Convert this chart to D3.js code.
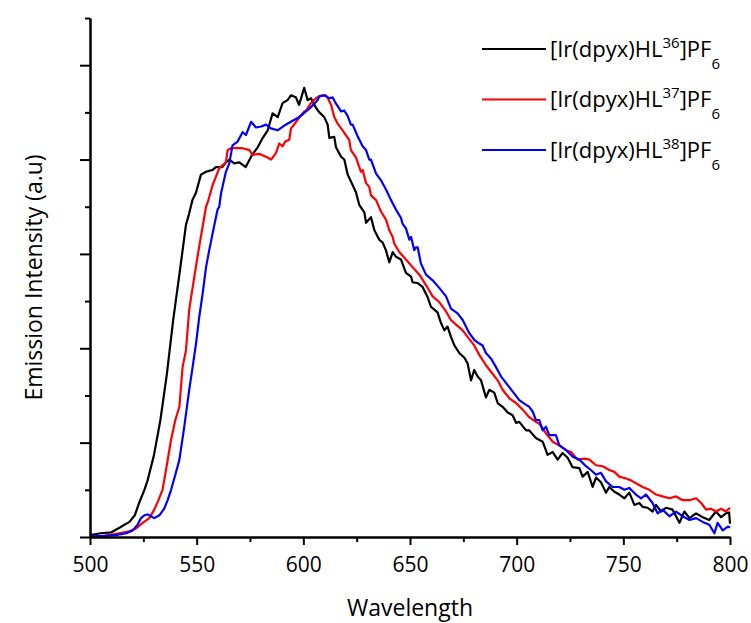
<!DOCTYPE html>
<html>
<head>
<meta charset="utf-8">
<script src="https://cdn.jsdelivr.net/npm/d3@7"></script>
<style>
  html, body { margin: 0; padding: 0; background: #ffffff; }
  svg { display: block; font-family: "Open Sans", "Noto Sans", sans-serif; }
</style>
</head>
<body>
<div id="chart"></div>
<script>
// ---- data (wavelength nm, emission intensity a.u.) ----
const xTicks = [500, 550, 600, 650, 700, 750, 800];
const xMinorTicks = [525, 575, 625, 675, 725, 775];
const yMajorTicks = [0, 1, 2, 3, 4, 5];
const yMinorTicks = [0.5, 1.5, 2.5, 3.5, 4.5, 5.5];
const xLabel = "Wavelength";
const yLabel = "Emission Intensity (a.u)";
const seriesNames = ["36", "37", "38"];
const seriesColors = ["#000000", "#ff0000", "#0000ff"];

const hl36 = [
  [500,0.02],[505,0.04],[510,0.05],[514,0.10],[518.5,0.16],[521,0.23],[523,0.36],[525.5,0.50],
  [527,0.60],[530,0.87],[533,1.24],[536,1.72],[539,2.30],[542,2.80],[545,3.31],[546.5,3.43],
  [548,3.57],[549.7,3.65],[552,3.84],[554.4,3.87],[557.5,3.89],[559,3.92],[562,3.92],[563.7,3.97],
  [565.3,4.00],[567.6,3.96],[570,3.97],[573,3.92],[576,4.05],[578.6,4.13],[581,4.23],[583.3,4.31],
  [585.6,4.49],[588,4.45],[590.3,4.60],[592.6,4.63],[594.2,4.68],[596.5,4.66],[598,4.58],[600.4,4.76],
  [602,4.63],[603.6,4.65],[605.9,4.55],[607.5,4.50],[609.8,4.45],[611.4,4.37],[612.2,4.23],[614.5,4.24],
  [615.3,4.13],[617.7,4.03],[619.2,4.00],[620.8,3.84],[623.1,3.73],[624.7,3.65],[626.2,3.52],[628.6,3.44],
  [629.4,3.33],[631.7,3.39],[633.3,3.25],[635.6,3.15],[637.2,3.12],[638.7,3.04],[640.3,2.91],[641.9,3.02],
  [643.4,2.97],[645.8,2.94],[648.1,2.80],[650.5,2.76],[651.2,2.70],[653.6,2.69],[655.9,2.65],[658.3,2.54],
  [659.8,2.44],[661.4,2.41],[662.9,2.38],[664.5,2.27],[666.1,2.19],[667.6,2.23],[669.2,2.12],[670.8,2.03],
  [673.1,1.95],[675.5,1.90],[677,1.84],[678.6,1.66],[680.1,1.77],[681.7,1.70],[683.3,1.66],[685.6,1.48],
  [687.2,1.56],[689.5,1.53],[691.1,1.42],[693.4,1.38],[695.8,1.32],[698.1,1.29],[699.7,1.21],[701.2,1.22],
  [704.4,1.13],[705.9,1.13],[709,1.05],[712.2,1.01],[714.5,0.87],[716.9,0.90],[719.2,0.82],[721.5,0.89],
  [723.9,0.84],[726.2,0.74],[729.4,0.73],[730.9,0.64],[733.3,0.69],[735.6,0.53],[737.2,0.63],[739.5,0.58],
  [741.9,0.47],[743.4,0.53],[745.8,0.48],[748.1,0.45],[750.5,0.41],[752.8,0.47],[755.2,0.34],[757.5,0.36],
  [759,0.32],[761.4,0.31],[763.7,0.27],[765.3,0.34],[767.7,0.27],[770,0.31],[773.1,0.29],[776.3,0.15],
  [778.6,0.27],[781,0.20],[784.1,0.25],[787.2,0.21],[790.3,0.18],[793.4,0.27],[795.8,0.21],[798.1,0.25],
  [799.6,0.26],[800,0.14]
];
const hl37 = [
  [500,0.01],[505.9,0.01],[513.7,0.04],[518.4,0.06],[521.6,0.09],[524.7,0.15],[527.8,0.20],[530.1,0.29],
  [531.7,0.37],[534,0.50],[536,0.76],[538,1.03],[540,1.24],[541.9,1.38],[543.4,1.80],[545,1.98],
  [546.5,2.41],[548.9,2.76],[551.2,3.08],[552.8,3.29],[554.4,3.50],[555.1,3.54],[557.5,3.73],[560.6,3.91],
  [563.7,3.97],[564.5,4.10],[566.1,4.12],[568.4,4.12],[571.5,4.12],[574.7,4.10],[576.2,4.05],[579.4,4.06],
  [582.5,4.03],[584.9,4.00],[587.2,4.07],[588.7,4.17],[590.3,4.14],[591.5,4.19],[593.4,4.21],[594.2,4.33],
  [595,4.35],[597.3,4.42],[598,4.44],[600.4,4.51],[601.3,4.52],[603.6,4.60],[605.9,4.65],[607.5,4.67],
  [609,4.68],[610.6,4.68],[611.5,4.65],[613,4.58],[614.5,4.45],[616.1,4.38],[618.4,4.31],[620.8,4.23],
  [621.5,4.21],[622.3,4.10],[624.7,4.02],[627,3.87],[627.8,3.89],[629.4,3.75],[630.9,3.71],[631.7,3.62],
  [634.1,3.57],[636.4,3.45],[638.8,3.36],[640.3,3.25],[641.9,3.18],[642.6,3.11],[645,3.02],[648.1,2.94],
  [651.2,2.86],[654.4,2.78],[657.5,2.67],[660.6,2.55],[663.7,2.49],[666.9,2.39],[669.2,2.30],[671.6,2.25],
  [674.7,2.19],[677,2.12],[680.1,2.03],[682.5,1.93],[685.6,1.82],[688.7,1.73],[691.1,1.66],[693.4,1.56],
  [696.6,1.47],[699.7,1.42],[702.8,1.35],[705.9,1.27],[709,1.22],[710.6,1.20],[712.2,1.15],[713.7,1.10],
  [716.9,1.01],[720,0.97],[723.2,0.92],[725.5,0.90],[728.6,0.82],[731.8,0.83],[734.1,0.82],[737.2,0.76],
  [740.3,0.75],[743.4,0.71],[745.8,0.69],[748.1,0.64],[751.3,0.62],[753.6,0.60],[755.9,0.57],[759.1,0.53],
  [762.2,0.50],[765.3,0.45],[768.4,0.43],[771.6,0.41],[774.7,0.43],[777.8,0.39],[781,0.39],[784.1,0.41],
  [786.5,0.36],[788.8,0.29],[791.1,0.30],[793.4,0.27],[795.8,0.30],[798.1,0.27],[800,0.31]
];
const hl38 = [
  [500,0.01],[506,0.01],[512,0.02],[517,0.04],[520,0.07],[522.3,0.13],[523.9,0.20],[525.5,0.23],
  [527,0.24],[528.6,0.22],[530.1,0.20],[532.5,0.23],[534.8,0.30],[536.4,0.39],[538,0.50],[540,0.66],
  [541.9,0.82],[544.2,1.17],[546.5,1.56],[548.1,1.80],[549.7,2.05],[551.2,2.33],[552.8,2.58],[554.4,2.86],
  [555.9,3.04],[557.5,3.22],[559.8,3.47],[560.6,3.50],[561.4,3.64],[563.7,3.87],[565.3,3.96],[566.8,4.15],
  [569.2,4.19],[571.5,4.29],[573.1,4.26],[575.5,4.40],[577.8,4.34],[580.2,4.35],[582.5,4.37],[584.8,4.33],
  [587.9,4.31],[591.1,4.36],[594.2,4.40],[597.3,4.44],[599.7,4.48],[602.8,4.54],[605.1,4.59],[606.7,4.63],
  [607.5,4.67],[609.8,4.68],[612.2,4.65],[613.7,4.66],[615.1,4.60],[617.7,4.51],[619.2,4.52],[620.8,4.46],
  [622.3,4.37],[623.1,4.37],[625.4,4.25],[627.8,4.14],[629.4,4.10],[630.9,4.00],[631.7,4.00],[634.1,3.85],
  [636.4,3.78],[638.8,3.68],[641.1,3.57],[643.4,3.47],[645.8,3.38],[646.5,3.32],[648.1,3.27],[649.7,3.15],
  [650.5,3.18],[652,3.04],[652.8,3.07],[653.6,3.07],[655.1,2.90],[657.5,2.78],[660.6,2.72],[663.7,2.64],
  [666.9,2.55],[669.2,2.42],[672.3,2.37],[674.7,2.30],[677.8,2.16],[680.1,2.09],[682.5,2.05],[684,2.03],
  [685.6,1.95],[688,1.89],[690.3,1.80],[692.7,1.70],[695.8,1.61],[698.9,1.52],[701.2,1.45],[704.4,1.40],
  [705.9,1.38],[707.5,1.33],[709,1.24],[710.6,1.24],[712.2,1.13],[713.7,1.17],[715.3,1.08],[718.4,1.08],
  [720,0.97],[723.2,0.92],[726.3,0.85],[729.4,0.82],[732.5,0.75],[734.8,0.71],[737.2,0.66],[739.5,0.68],
  [741.9,0.59],[745,0.53],[748.1,0.53],[750.5,0.50],[752.8,0.52],[755.9,0.45],[758.3,0.41],[760.6,0.45],
  [763.7,0.36],[766.1,0.25],[768.4,0.29],[771.6,0.22],[774.7,0.27],[777.8,0.22],[781,0.18],[784.1,0.20],
  [787.2,0.16],[790.3,0.13],[792.7,0.04],[794.2,0.15],[796.6,0.07],[799,0.11],[800,0.10]
];
const seriesData = [hl36, hl37, hl38];

// ---- layout ----
const W = 751, H = 623;
const margin = { left: 90, right: 21, top: 18, bottom: 86 };

const svg = d3.select("#chart").append("svg")
  .attr("width", W).attr("height", H);

const x = d3.scaleLinear().domain([500, 800]).range([margin.left, W - margin.right]);
const y = d3.scaleLinear().domain([0, 5.5]).range([H - margin.bottom, margin.top]);

// curves
const line = d3.line().x(d => x(d[0])).y(d => y(d[1]));
seriesData.forEach((s, i) => {
  svg.append("path").datum(s)
    .attr("fill", "none")
    .attr("stroke", seriesColors[i])
    .attr("stroke-width", 2.2)
    .attr("stroke-linejoin", "round")
    .attr("d", line);
});

// axes
function styleAxis(g) {
  g.selectAll("path, line").attr("stroke", "#000").attr("stroke-width", 2);
}
const xAxisY = y(0);
svg.append("g").attr("transform", `translate(0,${xAxisY})`)
  .call(d3.axisBottom(x).tickValues(xMinorTicks).tickSize(5).tickSizeOuter(0).tickFormat(""))
  .call(styleAxis);
const gx = svg.append("g").attr("transform", `translate(0,${xAxisY})`)
  .call(d3.axisBottom(x).tickValues(xTicks).tickSize(8).tickSizeOuter(0).tickFormat(d3.format("d")).tickPadding(12))
  .call(styleAxis);
gx.selectAll("text").attr("fill", "#000").attr("font-size", 21)
  .attr("font-family", "'Open Sans', sans-serif");

svg.append("g").attr("transform", `translate(${x(500)},0)`)
  .call(d3.axisLeft(y).tickValues(yMinorTicks).tickSize(5).tickSizeOuter(0).tickFormat(""))
  .call(styleAxis);
svg.append("g").attr("transform", `translate(${x(500)},0)`)
  .call(d3.axisLeft(y).tickValues(yMajorTicks).tickSize(10).tickSizeOuter(0).tickFormat(""))
  .call(styleAxis);

// axis titles
svg.append("text")
  .attr("x", (x(500) + x(800)) / 2).attr("y", 616)
  .attr("text-anchor", "middle").attr("font-size", 23).attr("fill", "#000")
  .text(xLabel);
svg.append("text")
  .attr("transform", `translate(42,${(y(0) + y(5.5)) / 2}) rotate(-90)`)
  .attr("text-anchor", "middle").attr("font-size", 23).attr("fill", "#000")
  .text(yLabel);

// legend
const legendX0 = 482, legendX1 = 546, legendY0 = 49, legendStep = 50.5;
seriesNames.forEach((n, i) => {
  const ly = legendY0 + i * legendStep;
  svg.append("line")
    .attr("x1", legendX0).attr("x2", legendX1).attr("y1", ly).attr("y2", ly)
    .attr("stroke", seriesColors[i]).attr("stroke-width", 2.2);
  const t = svg.append("text")
    .attr("x", 550).attr("y", ly + 7.5)
    .attr("font-size", 22).attr("fill", "#000");
  t.append("tspan").text("[Ir(dpyx)HL");
  t.append("tspan").attr("font-size", 15).attr("dy", -9).text(n);
  t.append("tspan").attr("dy", 9).text("]PF");
  t.append("tspan").attr("font-size", 15).attr("dy", 12).text("6");
});
</script>
</body>
</html>
